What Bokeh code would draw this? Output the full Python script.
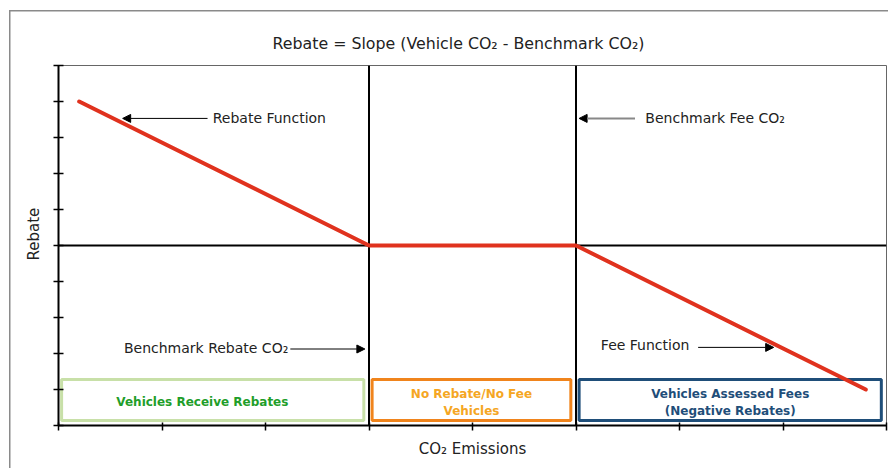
from bokeh.plotting import figure
from bokeh.models import Label, Arrow, NormalHead, FixedTicker, Title
from bokeh.embed import file_html
from bokeh.resources import INLINE

# ---- data ----
x_ticks = [0, 1, 2, 3, 4, 5, 6, 7, 8]
y_ticks = [-5, -4, -3, -2, -1, 0, 1, 2, 3, 4, 5]
benchmark_rebate = 3
benchmark_fee = 5
x_max = 8
rebate_x = [0.2, 3, 5, 7.8]
rebate_y = [4, 0, 0, -4]
zone_names = ["Vehicles Receive Rebates", "No Rebate/No Fee\nVehicles", "Vehicles Assessed Fees\n(Negative Rebates)"]
zone_start = [0, 3, 5]
zone_end = [3, 5, 8]

FONT = "DejaVu Sans"

p = figure(frame_width=828, frame_height=360, x_range=(0, x_max), y_range=(-5, 5),
           min_border_left=58, min_border_right=2, min_border_top=65, min_border_bottom=43,
           output_backend="svg", toolbar_location=None, background_fill_color="white",
           border_fill_color=None)
p.styles = {
    "background": "linear-gradient(#8a8a8a,#8a8a8a) 9px 10px / 1.5px 100% no-repeat, "
                  "linear-gradient(#8a8a8a,#8a8a8a) 9px 10px / 100% 1.5px no-repeat, white"
}
p.grid.visible = False
p.outline_line_color = "#666666"
p.outline_line_width = 1

p.title.text = "Rebate = Slope (Vehicle CO₂ - Benchmark CO₂)"
p.title.align = "left"
p.title.offset = 214
p.title.standoff = 25
p.title.text_font = FONT
p.title.text_font_size = "15.8px"
p.title.text_font_style = "normal"
p.title.text_color = "#222222"

p.xaxis.ticker = FixedTicker(ticks=x_ticks)
p.yaxis.ticker = FixedTicker(ticks=y_ticks)
p.xaxis.major_label_overrides = {t: "" for t in x_ticks}
p.yaxis.major_label_overrides = {t: "" for t in y_ticks}
for ax in (p.xaxis, p.yaxis):
    ax.axis_line_color = "black"
    ax.axis_line_width = 2
    ax.major_tick_line_color = "black"
    ax.major_tick_line_width = 1.5
    ax.minor_tick_line_color = None
    ax.major_label_standoff = 0
    ax.axis_label_text_font = FONT
    ax.axis_label_text_font_size = "15px"
    ax.axis_label_text_font_style = "normal"
    ax.axis_label_text_color = "#222222"
p.xaxis.major_tick_in = 3
p.xaxis.major_tick_out = 5
p.yaxis.major_tick_in = 5
p.yaxis.major_tick_out = 5
p.xaxis.axis_label = "CO₂ Emissions"
p.xaxis.axis_label_standoff = 9

# y-axis label, placed slightly above the frame centre as in the original
p.add_layout(Title(text="Rebate", align="left", offset=165, standoff=21,
                   text_font=FONT, text_font_size="15px", text_font_style="normal",
                   text_color="#222222"), "left")

# zone boundary lines and zero line
p.segment(x0=[benchmark_rebate, benchmark_fee], y0=[-5, -5], x1=[benchmark_rebate, benchmark_fee], y1=[5, 5],
          line_color="black", line_width=2)
p.segment(x0=[0], y0=[0], x1=[x_max], y1=[0], line_color="black", line_width=2)

# zone boxes
border_cols = ["#c8e0a8", "#f0841c", "#1f4e79"]
text_cols = ["#1f9e2a", "#f5a623", "#1f4e79"]
text_dx = [-0.1, 0, 0]
box_top, box_bottom = -3.72, -4.86
p.quad(left=[s + 0.03 for s in zone_start], right=[e - 0.05 for e in zone_end],
       top=[box_top] * 3, bottom=[box_bottom] * 3, fill_color=None,
       line_color=border_cols, line_width=3)
for name, s, e, c, dx in zip(zone_names, zone_start, zone_end, text_cols, text_dx):
    lines = name.split("\n")
    cx = (s + 0.03 + e - 0.05) / 2 + dx
    ys = [-4.36] if len(lines) == 1 else [-4.12, -4.60]
    for ln, yy in zip(lines, ys):
        p.add_layout(Label(x=cx, y=yy, text=ln, text_align="center", text_baseline="middle",
                           text_font=FONT, text_font_style="bold", text_font_size="12px",
                           text_color=c))

# rebate/fee function
p.line(rebate_x, rebate_y, line_color="#e0321e", line_width=4, line_cap="round")

# annotations
ann_col = "#222222"
def lab(x, y, t, align="left", size="14px"):
    p.add_layout(Label(x=x, y=y, text=t, text_align=align, text_baseline="middle",
                       text_font=FONT, text_font_size=size, text_color=ann_col))

lab(1.49, 3.53, "Rebate Function")
lab(5.67, 3.53, "Benchmark Fee CO₂")
lab(2.22, -2.86, "Benchmark Rebate CO₂", align="right")
lab(5.24, -2.75, "Fee Function")

def arrow(x0, x1, y, col="black", w=1):
    p.add_layout(Arrow(x_start=x0, y_start=y, x_end=x1, y_end=y, line_color=col, line_width=w,
                       end=NormalHead(size=8, fill_color="black", line_color="black")))

arrow(1.44, 0.62, 3.53)
arrow(5.57, 5.03, 3.53, col="#888888", w=2)
arrow(2.24, 2.96, -2.875)
arrow(6.18, 6.91, -2.83)

open("out.html", "w").write(file_html(p, INLINE))
